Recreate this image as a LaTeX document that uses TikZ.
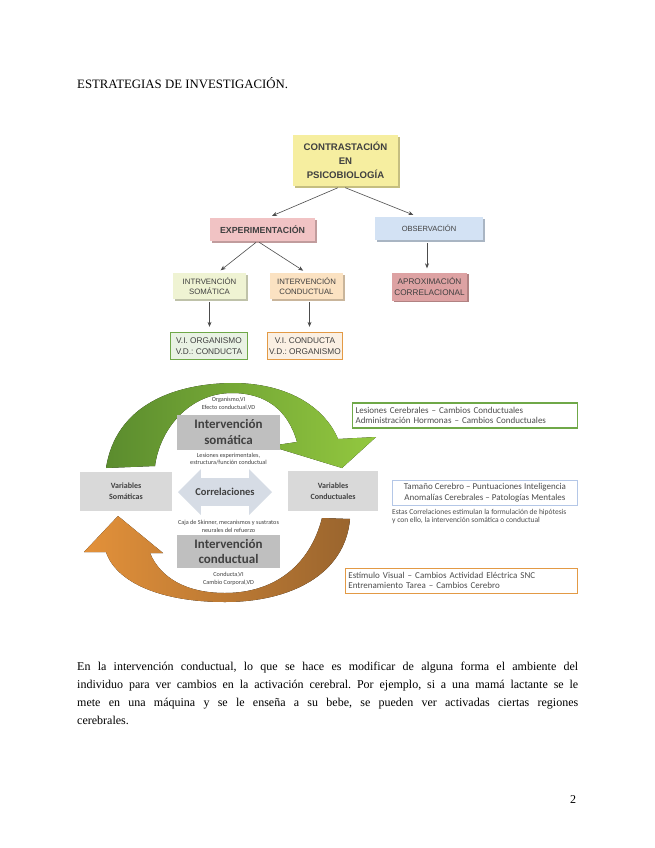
\documentclass[tikz,border=0pt]{standalone}
\usepackage{fontspec}
\setmainfont{Liberation Serif}
\newfontfamily\arialf{Liberation Sans}
\newfontfamily\calf{Carlito}
\usetikzlibrary{arrows.meta,shapes.arrows,shadows}
\definecolor{ylw}{HTML}{F6EEA0}
\definecolor{pnk}{HTML}{F1C3C4}
\definecolor{blu}{HTML}{D3E2F4}
\definecolor{lime}{HTML}{EFF3D3}
\definecolor{peach}{HTML}{FBE2C2}
\definecolor{rose}{HTML}{DDA2A3}
\definecolor{grnline}{HTML}{6FA848}
\definecolor{orgline}{HTML}{E39A45}
\definecolor{bluline}{HTML}{B4C7E7}
\definecolor{grndark}{HTML}{5B8C2E}
\definecolor{grnlight}{HTML}{93C83F}
\definecolor{orglight}{HTML}{E3913A}
\definecolor{orgdark}{HTML}{9A652E}
\definecolor{vgray}{HTML}{D9D9D9}
\definecolor{igray}{HTML}{BFBFBF}
\definecolor{corrblue}{HTML}{D6DCE5}
\definecolor{inktext}{HTML}{404040}

\tikzset{
  treebox/.style={rectangle,fill=#1,draw=none,inner sep=2pt,align=center,text=black!75,
    general shadow={fill=#1!80!black,shadow xshift=2pt,shadow yshift=-1.5pt}},
  treetext/.style={font=\arialf\fontsize{7.8}{10.5}\selectfont},
  leafbox/.style={rectangle,fill=#1!15,draw=#1,line width=1.3pt,inner sep=2pt,align=center,
    text=black!75,font=\arialf\fontsize{8.3}{11.5}\selectfont},
  tarrow/.style={-{Stealth[length=5pt,width=4pt]},black!70,line width=0.6pt},
  cyclebox/.style={rectangle,fill=#1,draw=none,inner sep=1pt,align=center,text=inktext},
  tinytext/.style={align=center,text=inktext,inner sep=0pt,font=\calf\fontsize{6.2}{7.8}\selectfont},
  sidebox/.style={rectangle,draw=#1,line width=1.1pt,fill=white,inner sep=3pt,
    text=black!70,font=\calf\fontsize{9}{10.5}\selectfont}
}

\begin{document}
\frenchspacing
\begin{tikzpicture}[x=1pt,y=-1pt]
\fill[white] (0,0) rectangle (655,848);
\useasboundingbox (0,0) rectangle (655,848);

\node[anchor=base west,inner sep=0pt,font=\fontsize{12.8}{14}\selectfont] (title) at (77,89) {ESTRATEGIAS DE INVESTIGACIÓN.};

% arbol superior
\node[treebox=ylw,minimum width=105pt,minimum height=51pt,font=\arialf\bfseries\fontsize{9.6}{14}\selectfont] (contr) at (345.5,160.5) {CONTRASTACIÓN\\EN\\PSICOBIOLOGÍA};
\node[treebox=pnk,minimum width=105pt,minimum height=23pt,font=\arialf\bfseries\fontsize{8.8}{10}\selectfont] (expe) at (262.5,229.5) {EXPERIMENTACIÓN};
\node[treebox=blu,minimum width=108pt,minimum height=23pt,font=\arialf\fontsize{7.5}{10}\selectfont] (obse) at (429,228.5) {OBSERVACIÓN};
\node[treebox=lime,treetext,minimum width=73pt,minimum height=26pt] (isom) at (209.5,286) {INTRVENCIÓN\\SOMÁTICA};
\node[treebox=peach,treetext,minimum width=73pt,minimum height=26pt] (icon) at (306.5,286) {INTERVENCIÓN\\CONDUCTUAL};
\node[treebox=rose,treetext,font=\arialf\fontsize{8.2}{11.5}\selectfont,minimum width=73pt,minimum height=28pt] (apro) at (429.5,286.5) {APROXIMACIÓN\\CORRELACIONAL};
\node[leafbox=grnline,minimum width=77pt,minimum height=27pt] (vorg) at (209,346) {V.I. ORGANISMO\\V.D.: CONDUCTA};
\node[leafbox=orgline,minimum width=75pt,minimum height=27pt] (vcon) at (305,346) {V.I. CONDUCTA\\V.D.: ORGANISMO};

\draw[tarrow,shorten <=4pt,shorten >=5pt] ([xshift=-4pt]contr.south) -- ([xshift=5pt]expe.north);
\draw[tarrow,shorten <=4pt,shorten >=5pt] ([xshift=-4pt]contr.south) -- ([xshift=-11pt]obse.north);
\draw[tarrow,shorten <=2pt,shorten >=4pt] ([xshift=-5pt]expe.south) -- ([xshift=8pt]isom.north);
\draw[tarrow,shorten <=2pt,shorten >=4pt] ([xshift=-5pt]expe.south) -- (icon.north);
\draw[tarrow,shorten <=3pt,shorten >=5pt] (isom.south) -- (isom.south |- vorg.north);
\draw[tarrow,shorten <=3pt,shorten >=5pt] ([xshift=3pt]icon.south) -- ([xshift=3pt]icon.south |- vcon.north);
\draw[tarrow,shorten <=3pt,shorten >=4pt] ([xshift=-2pt]obse.south) -- ([xshift=-2pt]obse.south |- apro.north);

% ciclo
\fill[left color=grndark,right color=grnlight]
  (106,468) .. controls (116,404) and (176,383) .. (235,383)
  .. controls (292,384) and (326,410) .. (338,439) -- (376,437) -- (342,468) -- (270,446) -- (297,442)
  .. controls (288,410) and (266,393) .. (232,393)
  .. controls (190,393) and (160,428) .. (155,466) -- cycle;
\fill[left color=orglight,right color=orgdark]
  (350,519) .. controls (345,575) and (290,602) .. (225,602)
  .. controls (160,602) and (116,582) .. (106,552) -- (84,552) -- (118,516) -- (163,553) -- (150,553)
  .. controls (160,577) and (185,593) .. (225,593)
  .. controls (275,593) and (310,565) .. (322,518) -- cycle;

\node[cyclebox=vgray,minimum width=92pt,minimum height=39pt,font=\calf\bfseries\fontsize{8}{11}\selectfont] (vsom) at (126,491.5) {Variables\\Somáticas};
\node[cyclebox=vgray,minimum width=90pt,minimum height=40pt,font=\calf\bfseries\fontsize{8}{11}\selectfont] (vcond) at (333,491) {Variables\\Conductuales};
\node[cyclebox=igray,minimum width=103pt,minimum height=35pt,font=\calf\bfseries\fontsize{13}{15.5}\selectfont] (isoma) at (228.5,432) {Intervención\\somática};
\node[cyclebox=igray,minimum width=103pt,minimum height=33pt,font=\calf\bfseries\fontsize{13}{15.5}\selectfont] (icond) at (228.5,551.5) {Intervención\\conductual};
\node[double arrow,double arrow head extend=9pt,fill=corrblue,draw=none,minimum height=94pt,
  inner ysep=10pt,inner xsep=2pt,text=inktext,font=\calf\bfseries\fontsize{10.5}{12}\selectfont] (corr) at (225,492) {Correlaciones};

\node[tinytext] (somtop) at (228.5,404) {Organismo,VI\\Efecto conductual,VD};
\node[tinytext] (sombot) at (228.5,459) {Lesiones experimentales,\\estructura/función conductual};
\node[tinytext] (contop) at (228.5,526) {Caja de Skinner, mecanismos y sustratos\\neurales del refuerzo};
\node[tinytext] (conbot) at (228.5,579) {Conducta,VI\\Cambio Corporal,VD};

% recuadros derechos
\node[sidebox=grnline,minimum width=225pt,minimum height=25pt,text width=219pt,align=left,anchor=west] (lesi) at (352,415.5) {Lesiones Cerebrales – Cambios Conductuales\\Administración Hormonas – Cambios Conductuales};
\node[sidebox=bluline,line width=0.8pt,minimum width=185pt,minimum height=25pt,align=center,anchor=west] (tama) at (392,492.5) {Tamaño Cerebro – Puntuaciones Inteligencia\\Anomalías Cerebrales – Patologías Mentales};
\node[anchor=north west,inner sep=0pt,align=left,text=black!70,font=\calf\fontsize{7.5}{8.5}\selectfont] (nota) at (392,509) {Estas Correlaciones estimulan la formulación de hipótesis\\y con ello, la intervención somática o conductual};
\node[sidebox=orgline,line width=0.8pt,minimum width=232pt,minimum height=25pt,text width=226pt,align=left,anchor=west] (esti) at (345,580.5) {Estímulo Visual – Cambios Actividad Eléctrica SNC\\Entrenamiento Tarea – Cambios Cerebro};

% texto inferior
\node[anchor=north west,inner sep=0pt,text width=501pt,align=justify,font=\fontsize{12}{18}\selectfont] (parr) at (77,662) {En la intervención conductual, lo que se hace es modificar de alguna forma el ambiente del\linebreak individuo para ver cambios en la activación cerebral. Por ejemplo, si a una mamá lactante se le\linebreak mete en una máquina y se le enseña a su bebe, se pueden ver activadas ciertas regiones\linebreak cerebrales.};
\node[font=\fontsize{12}{14}\selectfont,inner sep=0pt] (pagenum) at (573,800) {2};
\end{tikzpicture}
\end{document}
